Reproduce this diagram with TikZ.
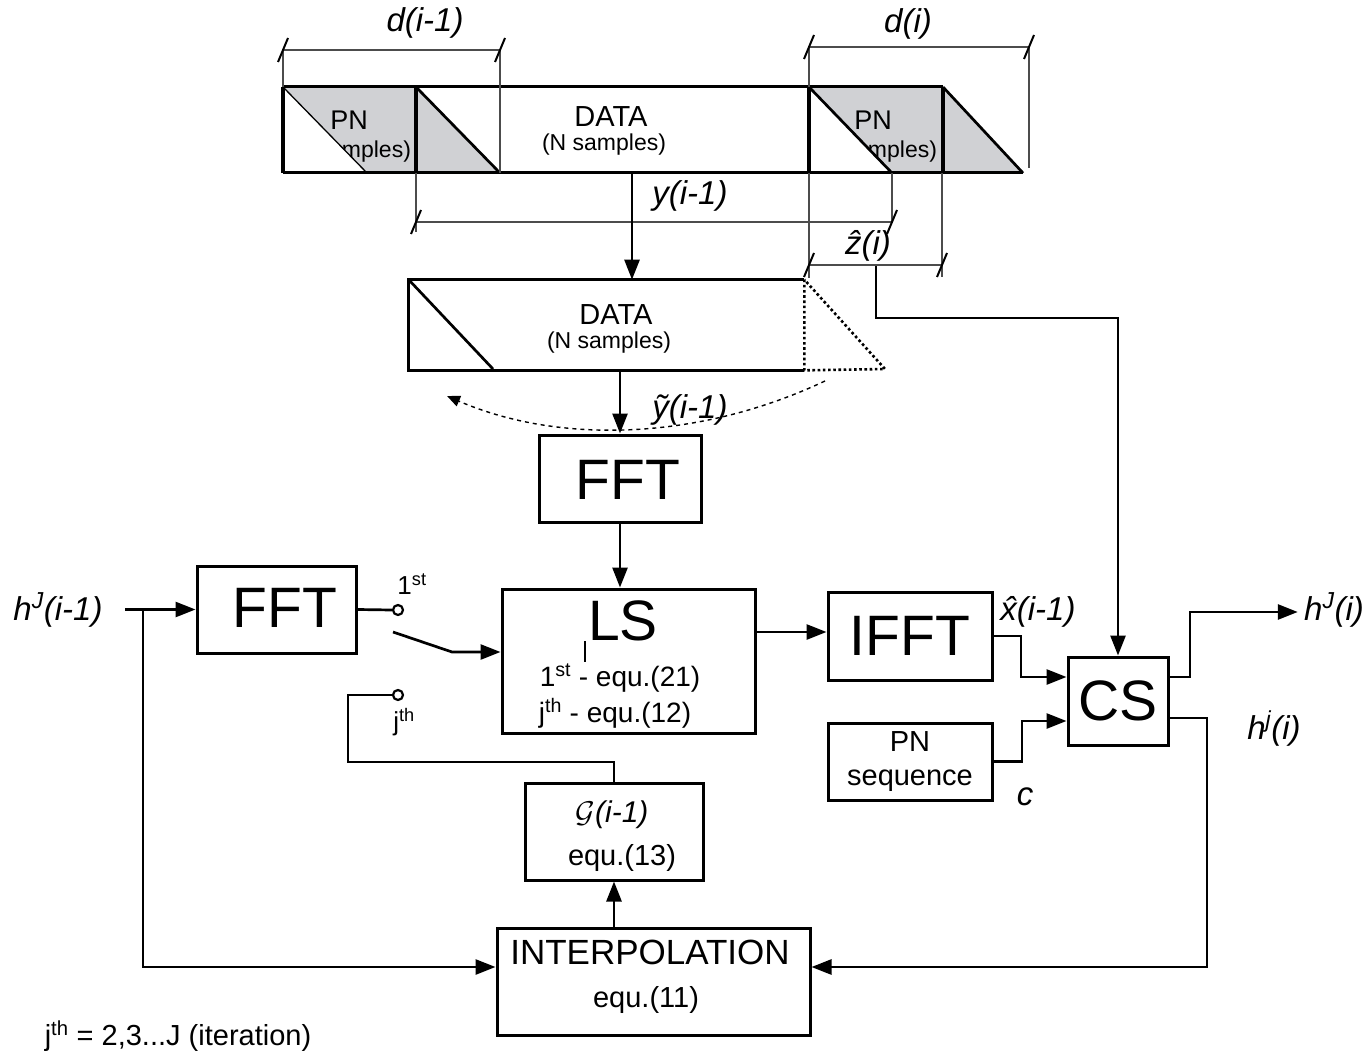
\RequirePackage{fix-cm}
\documentclass[tikz,border=0pt]{standalone}
\usepackage{fontspec}
\setmainfont{Liberation Sans}
\usepackage{tikz}
\usetikzlibrary{arrows.meta}
\definecolor{pngray}{RGB}{208,209,212}

\begin{document}
\begin{tikzpicture}[x=1pt,y=-1pt,line width=2.7pt,>={Triangle[length=20pt,width=15pt]},
    blk/.style={draw,line width=3pt,inner sep=0pt},
    dim/.style={line width=1.2pt,black!70},
    lbl/.style={font=\fontsize{33}{36}\selectfont\itshape,inner sep=0pt},
    big/.style={font=\fontsize{57}{60}\selectfont},
    mid/.style={font=\fontsize{29}{34}\selectfont,align=center},
    sml/.style={font=\fontsize{23}{26}\selectfont,inner sep=0pt},
    sw/.style={circle,draw,line width=2.2pt,fill=white,inner sep=0pt,minimum size=10pt}]
    \useasboundingbox (0,0) rectangle (1370,1056);

    % frame
    \fill[pngray] (283,87) rectangle (416,173);
    \fill[pngray] (809,87) rectangle (943,173);
    \node[inner sep=0pt,font=\fontsize{27}{30}\selectfont] (pna) at (349,120) {PN};
    \node[sml] (pnas) at (349,152) {(N samples)};
    \node[inner sep=0pt,font=\fontsize{27}{30}\selectfont] (pnb) at (873,120) {PN};
    \node[sml] (pnbs) at (875,152) {(N samples)};
    \fill[white] (284,88) -- (367,173) -- (284,173) -- cycle;
    \fill[white] (810,88) -- (892,173) -- (810,173) -- cycle;
    \fill[pngray] (416,87) -- (500,173) -- (416,173) -- cycle;
    \fill[pngray] (943,87) -- (1023,173) -- (943,173) -- cycle;
    \draw[line width=1.3pt] (284,88) -- (367,173);
    \draw (416,87) -- (500,173) (809,87) -- (892,173) (943,87) -- (1023,173);
    \draw[line width=3pt] (283,87) -- (943,87) (283,173) -- (1023,173);
    \foreach \x in {283,416,809,943}
    {
      \draw[line width=3.2pt] (\x,87) -- (\x,173);
    }
    \node[inner sep=0pt,font=\fontsize{29}{32}\selectfont] (fdata) at (611,117) {DATA};
    \node[sml] (fdatas) at (604,145) {(N samples)};

    \draw[dim] (283,50) -- (500,50) (283,50) -- (283,87) (500,50) -- (500,173);
    \draw[dim] (809,47) -- (1029,47) (809,47) -- (809,87) (1029,47) -- (1029,168);
    \draw[dim] (416,173) -- (416,232) (416,222) -- (892,222) (892,173) -- (892,222);
    \draw[dim] (809,173) -- (809,278) (809,265) -- (942,265) (942,173) -- (942,277);
    \foreach \p in {(283,50),(500,50),(809,47),(1029,47),(416,222),(892,222),(809,265),(942,265)}
    {
      \draw[line width=2pt] \p ++(-5,12) -- ++(10,-24);
    }
    \node[lbl] (dprev) at (425,23) {d(i-1)};
    \node[lbl] (dcur) at (908,24) {d(i)};
    \node[lbl] (ylab) at (690,196) {y(i-1)};
    \node[lbl] (zlab) at (868,246) {\^{z}(i)};

    % received block
    \node[minimum width=393pt,minimum height=88pt,inner sep=0pt] (mdata) at (606.5,325) {};
    \draw[line width=3pt] (mdata.north east) -- (mdata.north west) -- (mdata.south west) -- (mdata.south east);
    \draw (mdata.north west) -- (493,369);
    \draw[line width=2.6pt,dash pattern=on 2.6pt off 2.6pt] (mdata.north east) -- (mdata.south east) -- (885,369) -- cycle;
    \node[inner sep=0pt,font=\fontsize{29}{32}\selectfont] (mdatat) at (616,315) {DATA};
    \node[sml] (mdatas) at (609,343) {(N samples)};
    \coordinate (fout) at (632,173);
    \draw[->] (fout) -- (fout |- mdata.north);
    \draw[line width=1.4pt,dash pattern=on 4pt off 4pt,-{Triangle[length=13pt,width=11pt]}]
      (825,381) .. controls (700,440) and (560,445) .. (447,396);

    % blocks
    \node[blk,minimum width=162pt,minimum height=87pt] (fft1) at (620,478.5) {};
    \node[big,inner sep=0pt] (fft1t) at (628,480) {FFT};
    \node[blk,minimum width=159pt,minimum height=87pt] (fft2) at (276.5,609.5) {};
    \node[big,inner sep=0pt] (fft2t) at (285,608) {FFT};
    \node[blk,minimum width=253pt,minimum height=144pt] (ls) at (628.5,661) {};
    \node[big,inner sep=0pt] (lst) at (623,621) {LS};
    \node[inner sep=0pt,font=\fontsize{28}{30}\selectfont] (ls1) at (620,678) {1\textsuperscript{st} - equ.(21)};
    \node[inner sep=0pt,font=\fontsize{28}{30}\selectfont] (ls2) at (615,713) {j\textsuperscript{th} - equ.(12)};
    \draw[line width=1.3pt] (585,641) -- (585,662);
    \node[blk,big,minimum width=164pt,minimum height=88pt] (ifft) at (910,636) {IFFT};
    \node[blk,big,minimum width=100pt,minimum height=88pt] (cs) at (1118,701) {CS};
    \node[blk,mid,minimum width=164pt,minimum height=77pt] (pnseq) at (910,761.5) {PN\\sequence};
    \node[blk,minimum width=178pt,minimum height=97pt] (gbox) at (614,831.5) {};
    \node[inner sep=0pt,font=\fontsize{30}{32}\selectfont] (gt) at (612,815) {$\mathcal{G}$\textit{(i-1)}};
    \node[inner sep=0pt,font=\fontsize{29}{32}\selectfont] (ge) at (622,858) {equ.(13)};
    \node[blk,minimum width=313pt,minimum height=107pt] (interp) at (653.5,981.5) {};
    \node[inner sep=0pt,font=\fontsize{35}{38}\selectfont] (it) at (650,952) {INTERPOLATION};
    \node[inner sep=0pt,font=\fontsize{29}{32}\selectfont] (ie) at (646,1000) {equ.(11)};

    \draw[->] (fft1.north |- mdata.south) -- (fft1.north);
    \node[lbl] (ytlab) at (690,410) {\~{y}(i-1)};
    \draw[->] (fft1.south) -- (fft1.south |- ls.north);

    % switch
    \node[sw] (sw1) at (398,610) {};
    \node[sw] (swj) at (398,695) {};
    \node[inner sep=0pt,font=\fontsize{26}{28}\selectfont] (sw1t) at (412,584) {1\textsuperscript{st}};
    \node[inner sep=0pt,font=\fontsize{26}{28}\selectfont] (swjt) at (404,722) {j\textsuperscript{th}};
    \draw (fft2.east) -- (sw1.west);
    \coordinate (lev1) at (393,632);
    \coordinate (lev2) at (452,652);
    \draw[->] (lev1) -- (lev2) -- (ls.west |- lev2);
    \coordinate (jcorner) at (348,762);
    \draw (swj.west) -| (jcorner) -| (gbox.north);
    \draw[->] (gbox.south |- interp.north) -- (gbox.south);

    % input
    \node[lbl] (hin) at (58,610) {h\textsuperscript{J}(i-1)};
    \coordinate (hstart) at (125,609.5);
    \coordinate (hbr) at (143,609.5);
    \draw[->] (hstart) -- (fft2.west);
    \draw[->] (hbr) |- (interp.west |- 0,967);

    % right side
    \draw[->] (ls.east |- 0,632) -- (ifft.west |- 0,632);
    \node[lbl] (xlab) at (1038,612) {\^{x}(i-1)};
    \draw[->] (ifft.east) -- (1021,636) |- (cs.west |- 0,677);
    \draw[->] (pnseq.east) -- (1022,761.5) |- (cs.west |- 0,721);
    \node[lbl] (clab) at (1025,797) {c};
    \coordinate (zo) at (876,266);
    \draw[->] (zo) -- (876,318) -| (cs.north);
    \node[lbl] (hout) at (1334,610) {h\textsuperscript{J}(i)};
    \draw[->] (cs.east |- 0,677) -| (1190,612) -- ([xshift=-5pt]hout.west |- 0,612);
    \node[lbl] (hj) at (1274,729) {h\textsuperscript{j}(i)};
    \draw[->] (cs.east |- 0,718) -| (1207,967) -- (interp.east |- 0,967);

    \node[inner sep=0pt,font=\fontsize{29}{32}\selectfont] (note) at (178,1036) {j\textsuperscript{th} = 2,3...J (iteration)};
  \end{tikzpicture}
\end{document}
